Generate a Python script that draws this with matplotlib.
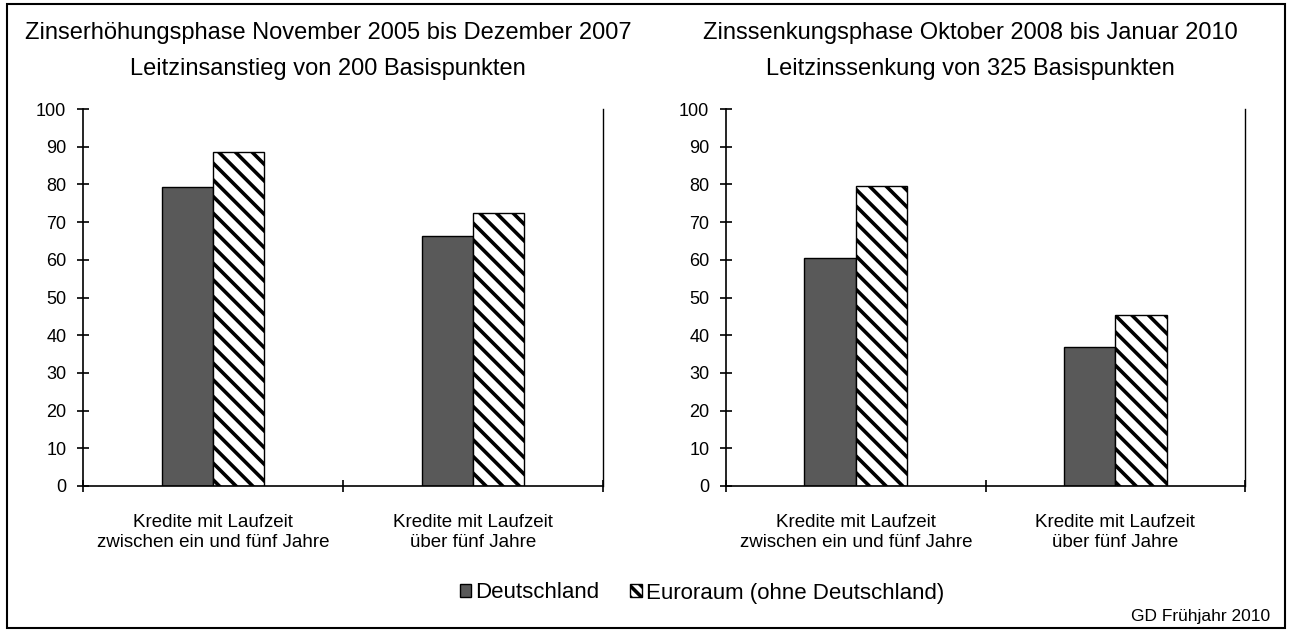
import matplotlib
matplotlib.use("Agg")
import matplotlib.pyplot as plt
from matplotlib.patches import Patch, Rectangle
import numpy as np

plt.rcParams['font.family'] = ['Liberation Sans', 'DejaVu Sans']
plt.rcParams['hatch.linewidth'] = 2.6
plt.rcParams['hatch.color'] = 'black'

categories = ["Kredite mit Laufzeit\nzwischen ein und fünf Jahre",
              "Kredite mit Laufzeit\nüber fünf Jahre"]
series_names = ["Deutschland", "Euroraum (ohne Deutschland)"]
left_de = [79.4, 66.4]
left_eu = [88.7, 72.3]
right_de = [60.4, 36.8]
right_eu = [79.6, 45.3]
titles = ["Zinserhöhungsphase November 2005 bis Dezember 2007\nLeitzinsanstieg von 200 Basispunkten",
          "Zinssenkungsphase Oktober 2008 bis Januar 2010\nLeitzinssenkung von 325 Basispunkten"]
yticks = [0, 10, 20, 30, 40, 50, 60, 70, 80, 90, 100]
source = "GD Frühjahr 2010"

W, H = 1292, 632
fig = plt.figure(figsize=(W / 100, H / 100), dpi=100)

def px_rect(x0, x1, ytop, ybot):
    return [x0 / W, 1 - ybot / H, (x1 - x0) / W, (ybot - ytop) / H]

ax1 = fig.add_axes(px_rect(83, 603, 109, 486))
ax2 = fig.add_axes(px_rect(726, 1245, 109, 486))

de_color = "#595959"
bw = 0.198

for ax, de, eu in [(ax1, left_de, left_eu), (ax2, right_de, right_eu)]:
    x = np.arange(len(categories)) + 0.5
    ax.bar(x - bw / 2, de, width=bw, color=de_color, edgecolor="black", linewidth=1.0)
    ax.bar(x + bw / 2, eu, width=bw, color="white", edgecolor="black", linewidth=1.0, hatch="\\\\")
    ax.set_xlim(0, 2)
    ax.set_ylim(0, 100)
    ax.set_yticks(yticks)
    ax.set_yticklabels([str(t) for t in yticks], fontsize=13)
    ax.tick_params(axis='y', direction='inout', length=8, width=1.2, pad=8)
    ax.set_xticks([0, 1, 2])
    ax.set_xticklabels(["", "", ""])
    ax.tick_params(axis='x', which='major', direction='inout', length=8, width=1.2)
    ax.set_xticks(x, minor=True)
    ax.set_xticklabels(categories, minor=True, fontsize=13.5, linespacing=1.25)
    ax.tick_params(axis='x', which='minor', length=0, pad=20)
    ax.spines['top'].set_visible(False)
    ax.spines['right'].set_linewidth(1.0)
    for s in ['left', 'bottom']:
        ax.spines[s].set_linewidth(1.2)
    ax.set_facecolor('white')

for xc, t in zip([328, 970], titles):
    l1, l2 = t.split("\n")
    fig.text(xc / W, 1 - 33 / H, l1, ha='center', va='center', fontsize=17)
    fig.text(xc / W, 1 - 69 / H, l2, ha='center', va='center', fontsize=17)

handles = [Patch(facecolor=de_color, edgecolor='black', linewidth=1.0),
           Patch(facecolor='white', edgecolor='black', linewidth=1.0, hatch='\\\\\\')]
fig.legend(handles, series_names, loc='center', bbox_to_anchor=(702 / W, 1 - 593 / H),
           ncol=2, frameon=False, fontsize=16, handlelength=0.5, handleheight=0.5,
           handletextpad=0.2, columnspacing=1.4, borderaxespad=0)

fig.text(1270 / W, 1 - 617 / H, source, ha='right', va='center', fontsize=12.5)

fig.patches.append(Rectangle((7 / W, 4 / H), 1 - 14 / W, 1 - 8 / H, transform=fig.transFigure,
                             fill=False, edgecolor='black', linewidth=1.5))

fig.savefig("out.png", dpi=100, facecolor='white')
